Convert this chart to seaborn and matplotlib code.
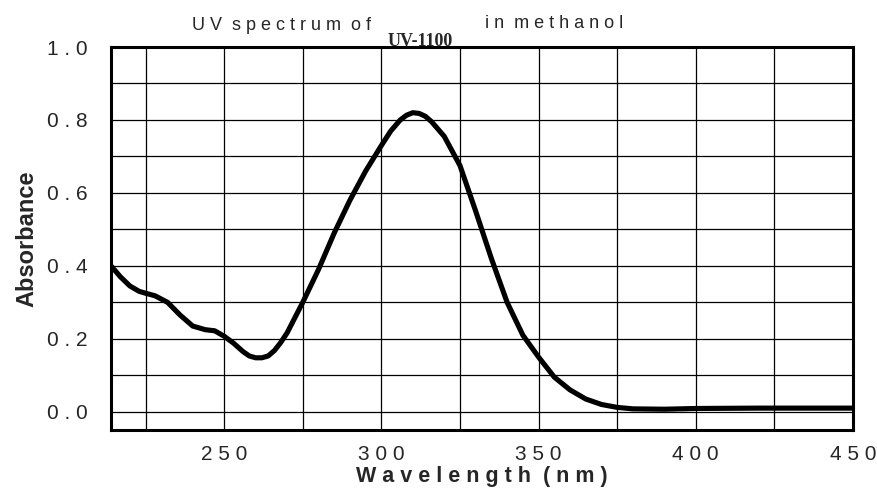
import matplotlib
matplotlib.use("Agg")
import matplotlib.pyplot as plt
from matplotlib.ticker import MultipleLocator, FixedLocator
import seaborn as sns
import pandas as pd

# UV spectrum readings (wavelength in nm, absorbance)
wavelength = [214, 217, 220, 223, 225, 228, 232, 236, 240, 244, 247, 250,
              253, 256, 258, 260, 262, 264, 266, 268, 270, 275, 280, 285,
              290, 295, 300, 303, 306, 308, 310, 312, 314, 316, 318, 320,
              325, 330, 335, 340, 345, 350, 355, 360, 365, 370, 375, 380,
              390, 400, 420, 450]
absorbance = [0.40, 0.37, 0.345, 0.33, 0.325, 0.318, 0.30, 0.265, 0.235, 0.225,
              0.222, 0.207, 0.188, 0.165, 0.153, 0.148, 0.148, 0.153, 0.168, 0.19,
              0.216, 0.30, 0.39, 0.49, 0.58, 0.66, 0.73, 0.77, 0.80, 0.813,
              0.82, 0.818, 0.81, 0.795, 0.775, 0.755, 0.675, 0.55, 0.42, 0.30,
              0.21, 0.15, 0.095, 0.06, 0.035, 0.02, 0.012, 0.008, 0.007, 0.009,
              0.01, 0.01]

x_ticks = [250, 300, 350, 400, 450]
y_ticks = [0.0, 0.2, 0.4, 0.6, 0.8, 1.0]


def spaced(s):
    return " ".join(s)


def main():
    sns.set_style("white")
    plt.rcParams['font.family'] = ['Liberation Sans', 'DejaVu Sans']

    data = pd.DataFrame({'Wavelength': wavelength, 'Absorbance': absorbance})

    fig = plt.figure(figsize=(8.78, 4.95), dpi=100)
    ax = fig.add_axes([0.1264, 0.1313, 0.8451, 0.7737])

    sns.lineplot(data=data, x='Wavelength', y='Absorbance', color='black',
                 linewidth=3.7, ax=ax, zorder=5)

    ax.set_xlim(214, 450)
    ax.set_ylim(-0.05, 1.0)

    ax.xaxis.set_major_locator(FixedLocator(x_ticks))
    ax.xaxis.set_minor_locator(MultipleLocator(25))
    ax.yaxis.set_major_locator(FixedLocator(y_ticks))
    ax.yaxis.set_minor_locator(MultipleLocator(0.1))
    ax.set_xticklabels([spaced(str(v)) for v in x_ticks], fontsize=15)
    ax.set_yticklabels([spaced(f"{v:.1f}") for v in y_ticks], fontsize=15)

    ax.tick_params(which='major', direction='out', length=7, width=2,
                   color='black', pad=4)
    ax.tick_params(axis='y', which='major', length=9, pad=8)
    ax.tick_params(which='minor', direction='out', length=4, width=1.5,
                   color='black')

    ax.grid(True, which='both', color='black', linewidth=0.9)
    ax.set_axisbelow(True)

    for side in ['left', 'right', 'top', 'bottom']:
        ax.spines[side].set_visible(True)
        ax.spines[side].set_color('black')
        ax.spines[side].set_linewidth(2.2)

    ax.set_xlabel(spaced("Wavelength") + "  " + spaced("(nm)"),
                  fontsize=15.5, fontweight='bold', labelpad=1)
    ax.set_ylabel("Absorbance", fontsize=17, fontweight='bold', labelpad=6)

    fig.text(0.2187, 0.948, spaced("UV") + "  " + spaced("spectrum") + "  " + spaced("of"),
             fontsize=13, ha='left', va='center')
    fig.text(0.5524, 0.952, spaced("in") + "  " + spaced("methanol"),
             fontsize=13, ha='left', va='center')
    fig.text(0.4419, 0.908, "UV-1100", fontsize=13, fontweight='bold',
             family=['Liberation Serif', 'DejaVu Serif'], ha='left',
             va='baseline', zorder=10)

    fig.savefig('out.png', dpi=100)
    plt.close(fig)


if __name__ == '__main__':
    main()
